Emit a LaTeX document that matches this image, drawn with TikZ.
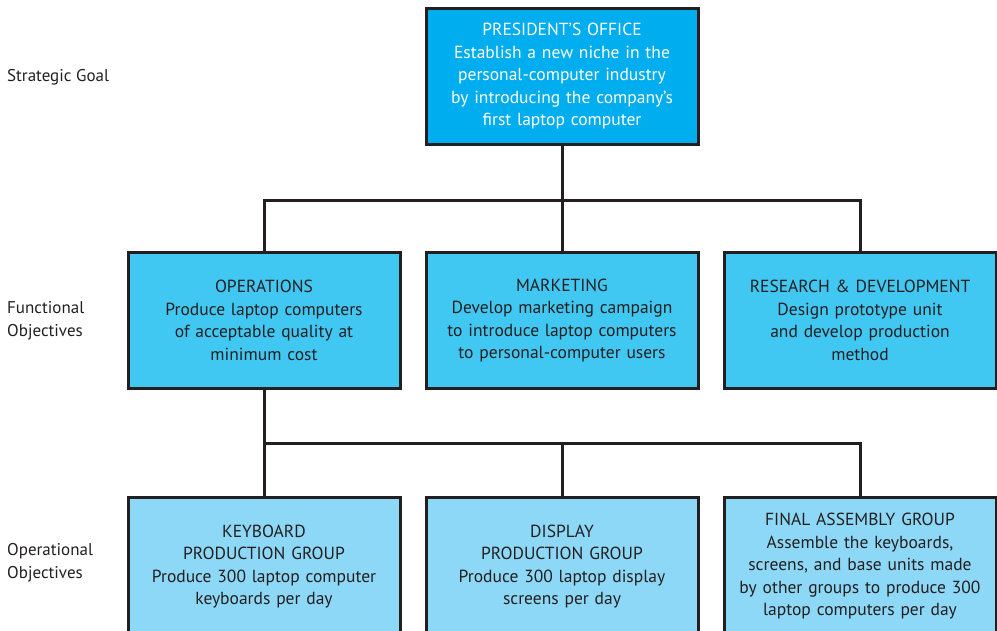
\documentclass[tikz,border=0pt]{standalone}
\usepackage{fontspec}
\setmainfont{PT Sans}
\definecolor{inkdark}{HTML}{231F20}
\definecolor{goalblue}{HTML}{00AEEF}
\definecolor{funcblue}{HTML}{40C7F2}
\definecolor{operblue}{HTML}{8DD8F6}
\tikzset{
  orgbox/.style={draw=inkdark, line width=3pt, minimum width=272pt, align=center,
    text width=266pt, inner sep=0pt, font=\fontsize{17.5}{22.5}\selectfont},
  goalbox/.style={orgbox, fill=goalblue, text=white, minimum height=136pt},
  funcbox/.style={orgbox, fill=funcblue, text=inkdark, minimum height=136pt},
  operbox/.style={orgbox, fill=operblue, text=inkdark, minimum height=138pt, anchor=north},
  levellabel/.style={anchor=west, align=left, text=inkdark, inner sep=0pt,
    font=\fontsize{17}{22.5}\selectfont},
  link/.style={draw=inkdark, line width=3pt}
}
\begin{document}
\begin{tikzpicture}[x=1pt,y=-1pt]
\useasboundingbox (0,0) rectangle (997,630);
\clip (0,0) rectangle (997,630);

% level labels
\node[levellabel] (lgoal) at (7,77) {Strategic Goal};
\node[levellabel] (lfunc) at (7,321) {Functional\\Objectives};
\node[levellabel] (loper) at (7,562.5) {Operational\\Objectives};

% strategic goal
\node[goalbox] (pres) at (562,76.5) {PRESIDENT’S OFFICE\\Establish a new niche in the\\personal-computer industry\\by introducing the company’s\\first laptop computer};

% functional objectives
\node[funcbox] (ops) at (264,320.5) {OPERATIONS\\Produce laptop computers\\of acceptable quality at\\minimum cost};
\node[funcbox] (mkt) at (562,320.5) {MARKETING\\Develop marketing campaign\\to introduce laptop computers\\to personal-computer users};
\node[funcbox] (rnd) at (860,320.5) {RESEARCH \& DEVELOPMENT\\Design prototype unit\\and develop production\\method};

% operational objectives
\node[operbox] (kbd) at (264,496) {KEYBOARD\\PRODUCTION GROUP\\Produce 300 laptop computer\\keyboards per day};
\node[operbox] (disp) at (562,496) {DISPLAY\\PRODUCTION GROUP\\Produce 300 laptop display\\screens per day};
\node[operbox] (fin) at (860,496) {FINAL ASSEMBLY GROUP\\Assemble the keyboards,\\screens, and base units made\\by other groups to produce 300\\laptop computers per day};

% connectors
\coordinate (j1) at (562,200);
\coordinate (j2) at (264,443);
\draw[link] (pres.south) -- (j1);
\draw[link] (j1) -| (ops.north);
\draw[link] (j1) -- (mkt.north);
\draw[link] (j1) -| (rnd.north);
\draw[link] (ops.south) -- (j2);
\draw[link] (j2) -- (kbd.north);
\draw[link] (j2) -| (disp.north);
\draw[link] (j2) -| (fin.north);
\end{tikzpicture}
\end{document}
